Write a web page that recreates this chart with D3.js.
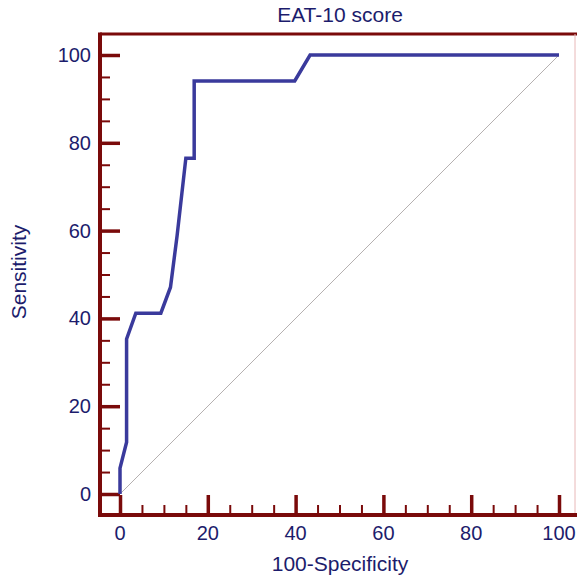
<!DOCTYPE html>
<html>
<head>
<meta charset="utf-8">
<script src="https://cdn.jsdelivr.net/npm/d3@7"></script>
<style>
  body { margin: 0; background: #fff; }
  text { font-family: "Liberation Sans", Arial, sans-serif; fill: #1c1c6c; }
</style>
</head>
<body>
<div id="chart"></div>
<script>
// ROC curve points
var fpr  = [0, 0, 1.5, 1.5, 3.6, 9.3, 11.5, 13.0, 15.0, 16.9, 16.9, 39.8, 43.3, 100];
var sens = [0, 5.9, 11.8, 35.3, 41.2, 41.2, 47.1, 58.8, 76.5, 76.5, 94.1, 94.1, 100, 100];
var majorTicks = [0, 20, 40, 60, 80, 100];
var minorTicks = d3.range(0, 101, 5).filter(function (d) { return d % 20 != 0; });

var title = "EAT-10 score";
var xLabel = "100-Specificity";
var yLabel = "Sensitivity";

var width = 577, height = 578;
var frame = { left: 100, top: 34, right: 575, bottom: 515 };
var axisColor = "#7a0a0a";

var svg = d3.select("#chart").append("svg")
  .attr("width", width)
  .attr("height", height);

var x = d3.scaleLinear().domain([0, 100]).range([120, 559]);
var y = d3.scaleLinear().domain([0, 100]).range([494, 55]);

// diagonal reference line
svg.append("line")
  .attr("x1", x(0)).attr("y1", y(0))
  .attr("x2", x(100)).attr("y2", y(100))
  .attr("stroke", "#b5b0b0")
  .attr("stroke-width", 1);

// frame: thick top, left, bottom; thin right
svg.append("line").attr("x1", frame.left).attr("x2", width)
  .attr("y1", frame.top).attr("y2", frame.top)
  .attr("stroke", axisColor).attr("stroke-width", 3);
svg.append("line").attr("x1", frame.right).attr("x2", frame.right)
  .attr("y1", frame.top).attr("y2", frame.bottom)
  .attr("stroke", "#e8b8b8").attr("stroke-width", 1);

// Y axis (ticks pointing inward)
var yAxis = svg.append("g")
  .attr("transform", "translate(" + frame.left + ",0)")
  .call(d3.axisRight(y).tickValues(majorTicks).tickSize(20).tickFormat(""));
yAxis.select(".domain").remove();
yAxis.selectAll("line").attr("stroke", axisColor).attr("stroke-width", 3.5);
svg.append("g")
  .attr("transform", "translate(" + frame.left + ",0)")
  .call(d3.axisRight(y).tickValues(minorTicks).tickSize(10).tickFormat(""))
  .call(function (g) { g.select(".domain").remove(); })
  .selectAll("line").attr("stroke", axisColor).attr("stroke-width", 2);

// X axis
var xAxis = svg.append("g")
  .attr("transform", "translate(0," + frame.bottom + ")")
  .call(d3.axisTop(x).tickValues(majorTicks).tickSize(20).tickFormat(""));
xAxis.select(".domain").remove();
xAxis.selectAll("line").attr("stroke", axisColor).attr("stroke-width", 3.5);
svg.append("g")
  .attr("transform", "translate(0," + frame.bottom + ")")
  .call(d3.axisTop(x).tickValues(minorTicks).tickSize(10).tickFormat(""))
  .call(function (g) { g.select(".domain").remove(); })
  .selectAll("line").attr("stroke", axisColor).attr("stroke-width", 2);

svg.append("line").attr("x1", frame.left).attr("x2", frame.left)
  .attr("y1", frame.top - 1.5).attr("y2", frame.bottom + 2)
  .attr("stroke", axisColor).attr("stroke-width", 4);
svg.append("line").attr("x1", frame.left).attr("x2", width)
  .attr("y1", frame.bottom).attr("y2", frame.bottom)
  .attr("stroke", axisColor).attr("stroke-width", 4);

// tick labels
svg.selectAll(".ylab").data(majorTicks).enter().append("text")
  .attr("x", frame.left - 9)
  .attr("y", function (d) { return y(d); })
  .attr("dy", "0.35em")
  .attr("text-anchor", "end")
  .style("font-size", "20px")
  .text(function (d) { return d; });

svg.selectAll(".xlab").data(majorTicks).enter().append("text")
  .attr("x", function (d) { return x(d); })
  .attr("y", 540)
  .attr("text-anchor", "middle")
  .style("font-size", "20px")
  .text(function (d) { return d; });

// ROC curve
var pts = fpr.map(function (d, i) { return [d, sens[i]]; });
svg.append("path")
  .datum(pts)
  .attr("fill", "none")
  .attr("stroke", "#3a3a9c")
  .attr("stroke-width", 3.5)
  .attr("stroke-linejoin", "miter")
  .attr("d", d3.line()
    .x(function (d) { return x(d[0]); })
    .y(function (d) { return y(d[1]); }));

// titles
svg.append("text")
  .attr("x", 340)
  .attr("y", 22)
  .attr("text-anchor", "middle")
  .style("font-size", "21px")
  .text(title);

svg.append("text")
  .attr("x", 340)
  .attr("y", 571)
  .attr("text-anchor", "middle")
  .style("font-size", "21px")
  .text(xLabel);

svg.append("text")
  .attr("transform", "translate(26,272) rotate(-90)")
  .attr("text-anchor", "middle")
  .style("font-size", "21px")
  .text(yLabel);
</script>
</body>
</html>
